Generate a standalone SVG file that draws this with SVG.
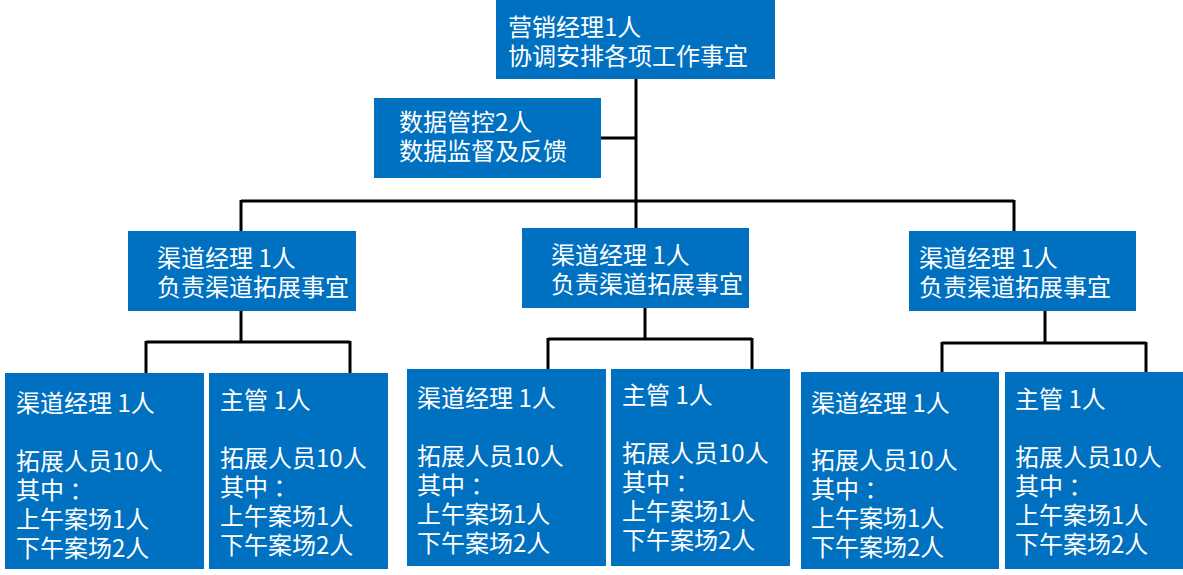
<svg xmlns="http://www.w3.org/2000/svg" width="1183" height="575" viewBox="0 0 1183 575">
<style>
.box{fill:#0070C0}
text{font-family:"Noto Sans CJK SC","Microsoft YaHei",sans-serif;font-size:24px;fill:#FFFFFF}
.ln{stroke:#000000;stroke-width:3;fill:none}
</style>
<rect width="1183" height="575" fill="#FFFFFF"/>
<g id="connectors">
<path class="ln" d="M636,79 V230 M601,138 H636 M241,201 H1014 M241,200 V231 M1014,200 V232"/>
<path class="ln" d="M241,311 V342 M146,342 H350 M146,341 V373 M350,341 V373"/>
<path class="ln" d="M645,308 V339 M548,339 H752 M548,338 V369 M752,338 V369"/>
<path class="ln" d="M1045,311 V343 M942,343 H1146 M942,342 V372 M1146,342 V372"/>
</g>
<g id="n-top">
<rect class="box" x="496" y="0" width="279" height="79"/>
<text x="508" y="36">营销经理1人</text>
<text x="508" y="65">协调安排各项工作事宜</text>
</g>
<g id="n-data">
<rect class="box" x="374" y="98" width="227" height="80"/>
<text x="399" y="131">数据管控2人</text>
<text x="399" y="160">数据监督及反馈</text>
</g>
<g id="n-mid-left">
<rect class="box" x="128" y="231" width="228" height="80"/>
<text x="157" y="267">渠道经理 1人</text>
<text x="157" y="296">负责渠道拓展事宜</text>
</g>
<g id="n-mid-center">
<rect class="box" x="522" y="228" width="227" height="80"/>
<text x="551" y="264">渠道经理 1人</text>
<text x="551" y="293">负责渠道拓展事宜</text>
</g>
<g id="n-mid-right">
<rect class="box" x="909" y="231" width="227" height="80"/>
<text x="919" y="267">渠道经理 1人</text>
<text x="919" y="296">负责渠道拓展事宜</text>
</g>
<g id="n-b1">
<rect class="box" x="5" y="373" width="199" height="196"/>
<text x="16" y="412">渠道经理 1人</text>
<text x="16" y="470">拓展人员10人</text>
<text x="16" y="499">其中 ：</text>
<text x="16" y="528">上午案场1人</text>
<text x="16" y="557">下午案场2人</text>
</g>
<g id="n-b2">
<rect class="box" x="209" y="373" width="179" height="196"/>
<text x="220" y="409">主管 1人</text>
<text x="220" y="467">拓展人员10人</text>
<text x="220" y="496">其中 ：</text>
<text x="220" y="525">上午案场1人</text>
<text x="220" y="554">下午案场2人</text>
</g>
<g id="n-b3">
<rect class="box" x="407" y="369" width="199" height="197"/>
<text x="417" y="407">渠道经理 1人</text>
<text x="417" y="465">拓展人员10人</text>
<text x="417" y="494">其中 ：</text>
<text x="417" y="523">上午案场1人</text>
<text x="417" y="552">下午案场2人</text>
</g>
<g id="n-b4">
<rect class="box" x="611" y="369" width="179" height="197"/>
<text x="622" y="404">主管 1人</text>
<text x="622" y="462">拓展人员10人</text>
<text x="622" y="491">其中 ：</text>
<text x="622" y="520">上午案场1人</text>
<text x="622" y="549">下午案场2人</text>
</g>
<g id="n-b5">
<rect class="box" x="801" y="372" width="198" height="197"/>
<text x="811" y="412">渠道经理 1人</text>
<text x="811" y="469">拓展人员10人</text>
<text x="811" y="498">其中 ：</text>
<text x="811" y="527">上午案场1人</text>
<text x="811" y="556">下午案场2人</text>
</g>
<g id="n-b6">
<rect class="box" x="1005" y="372" width="178" height="197"/>
<text x="1015" y="408">主管 1人</text>
<text x="1015" y="466">拓展人员10人</text>
<text x="1015" y="495">其中 ：</text>
<text x="1015" y="524">上午案场1人</text>
<text x="1015" y="553">下午案场2人</text>
</g>
</svg>
